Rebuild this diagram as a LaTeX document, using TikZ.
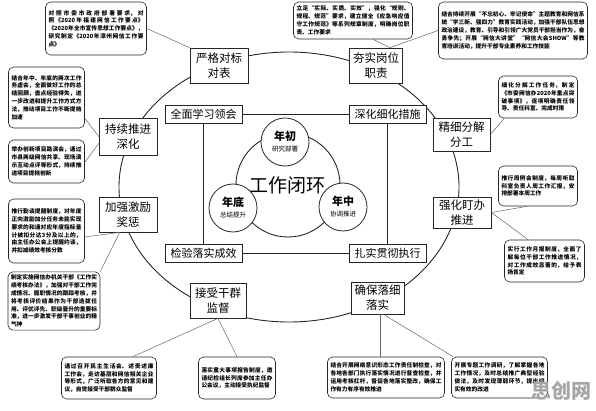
\documentclass[tikz,border=0pt]{standalone}
\usepackage{fontspec}
\setmainfont{Noto Sans CJK SC}
\XeTeXlinebreaklocale "zh"
\XeTeXlinebreakskip=0pt plus 1pt
\usetikzlibrary{calc}
\begin{document}
\begin{tikzpicture}[x=1pt,y=-1pt,
 box/.style={draw=black!85, line width=0.7pt, fill=white, align=center, font=\fontsize{11.5}{15}\selectfont, inner sep=1pt},
 ibox/.style={draw=black!85, line width=0.7pt, fill=white, font=\fontsize{11}{12}\selectfont, minimum width=77pt, minimum height=18pt, inner sep=1pt},
 note/.style={draw=black!85, line width=0.6pt, fill=white, rounded corners=5pt, font=\fontsize{5.7}{7.8}\selectfont\bfseries, align=justify, inner sep=3pt},
 link/.style={draw=black!60, line width=0.5pt},
 ring/.style={draw=black!85, line width=0.9pt},
 yc/.style={circle, draw=black!85, line width=0.8pt, fill=white, minimum size=48pt, inner sep=0pt, align=center}
]
\useasboundingbox (0,0) rectangle (596,411);

% rings
\draw[ring] (289,187) ellipse [x radius=170pt, y radius=135pt];
\draw[ring] (288,185) circle [radius=52pt];

% ring boxes
\node[box, minimum width=58pt, minimum height=35pt] (yg) at (219,65.5) {严格对标\\对表};
\node[box, minimum width=53pt, minimum height=35pt] (hs) at (376,65.5) {夯实岗位\\职责};
\node[box, minimum width=58pt, minimum height=37pt] (cx) at (128,136.5) {持续推进\\深化};
\node[box, minimum width=58pt, minimum height=35pt] (jq) at (128,214.5) {加强激励\\奖惩};
\node[box, minimum width=57pt, minimum height=33pt] (jx) at (461.5,134.5) {精细分解\\分工};
\node[box, minimum width=58pt, minimum height=31pt] (qh) at (462,212.5) {强化盯办\\推进};
\node[box, minimum width=56pt, minimum height=35pt] (js) at (218,300.5) {接受干群\\监督};
\node[box, minimum width=53pt, minimum height=32pt] (qb) at (377.5,298) {确保落细\\落实};

% inner rectangle
\node[ibox] (qm) at (203.5,114) {全面学习领会};
\node[ibox] (sh) at (387.5,114) {深化细化措施};
\node[ibox] (jy) at (203.5,253) {检验落实成效};
\node[ibox] (zs) at (387.5,253) {扎实贯彻执行};
\draw[ring] (qm) -- (sh);
\draw[ring] (sh) -- (zs);
\draw[ring] (zs) -- (jy);
\draw[ring] (jy) -- (qm);

% centre
\node[font=\fontsize{19}{20}\selectfont] (title) at (287,185) {工作闭环};
\node[yc] (nc) at (285,142) {{\fontsize{11}{12}\selectfont\bfseries 年初}\\[-1pt]{\fontsize{6.5}{8}\selectfont 研究部署}};
\node[yc] (nz) at (343,207) {{\fontsize{11}{12}\selectfont\bfseries 年中}\\[-1pt]{\fontsize{6.5}{8}\selectfont 协调推进}};
\node[yc] (nd) at (233,208) {{\fontsize{11}{12}\selectfont\bfseries 年底}\\[-1pt]{\fontsize{6.5}{8}\selectfont 总结提升}};

% notes
\node[note, text width=95pt, minimum height=53pt] (n1) at (96,28.5) {对照市委市政府部署要求，对照《2020年福建网信工作要点》《2020年全市宣传思想工作要点》，研究制定《2020年漳州网信工作要点》};
\node[note, text width=113pt, minimum height=37pt] (n2) at (353,20.5) {立足“实际、实质、实效”，强化“规则、规程、规范”要求，建立健全《应急响应值守工作规范》等系列规章制度，明确岗位职责、工作要求};
\node[note, text width=143pt, minimum height=57pt] (n3) at (513,30.5) {结合持续开展“不忘初心、牢记使命”主题教育和网信系统“学三新、强四力”教育实践活动，加强干部队伍思想政治建设，教育、引导和引领广大党员干部担当作为，奋勇争先；开展“网信大讲堂”“网信大会SHOW”等教育培训活动，提升干部专业素养和工作技能};
\node[note, text width=73pt, minimum height=42pt] (n4) at (538,97) {细化分解工作任务，制定《市委网信办2020年重点突破事项》，逐项明确责任领导、责任科室、完成时限};
\node[note, text width=73pt, minimum height=40pt] (n5) at (538,186) {推行周例会制度，每周听取科室负责人周工作汇报，安排部署本周工作};
\node[note, text width=74pt, minimum height=42pt] (n6) at (544.5,261) {实行工作月报制度，全面了解每位干部工作推进情况，对工作成效显著的，给予表扬肯定};
\node[note, text width=111pt, minimum height=41pt] (n7) at (386,377.5) {结合开展网络意识形态工作责任制检查，对各地各部门执行落实情况进行督查检查，并运用考核杠杆，督促各地落实整改，确保工作有力有序有效推进};
\node[note, text width=90pt, minimum height=41pt] (n8) at (499.5,377.5) {开展专题工作调研，了解掌握各地工作情况，及时总结推广典型经验做法，及时发现薄弱环节，提出切实有效的改进};
\node[note, text width=89pt, minimum height=42pt] (n9) at (109,378) {通过召开民主生活会、述责述廉工作会，走访基层和网信相关企业等形式，广泛听取各方的意见和建议，自觉接受干部群众监督};
\node[note, text width=71pt, minimum height=42pt] (n10) at (237,378) {落实重大事项报告制度，邀请纪检组长列席参加主任办公会议，主动接受执纪监督};
\node[note, text width=70pt, minimum height=61pt] (l1) at (46.5,97.5) {结合年中、年底的两次工作务虚会，全面做好工作的总结回顾，盘点经验得失，进一步改进和提升工作方式方法，推动项目工作不断提档加速};
\node[note, text width=70pt, minimum height=43pt] (l2) at (46.5,161.5) {举办创新项目路演会，通过市县两级网信共享、现场演示互动点评等形式，持续推进项目提档创新};
\node[note, text width=70pt, minimum height=64pt] (l3) at (46.5,231) {推行勤谈提醒制度，对年度正向激励加分任务未能实现要求的和通对应年度指标量计被扣分达3分及以上的，由主任办公会上提醒约谈，并扣减绩效考核分数};
\node[note, text width=86pt, minimum height=58pt] (l4) at (54,301) {制定实施网信办机关干部《工作实绩考核办法》，加强对干部工作完成情况、履职情况的跟踪考核，并将考核评价结果作为干部选拔任用、评优评先、职级晋升的重要标准，进一步激发干部干事创业的精气神};

% connectors
\draw[link] (n1.east) -- (yg.north west);
\draw[link] ($(n2.south)+(20,0)$) -- ($(hs.north)+(14,0)$);
\draw[link] (n3.west) -- ($(hs.north)+(14,0)$);
\draw[link] ($(n4.south west)+(6,0)$) -- (jx.east);
\draw[link] ($(n5.south west)+(29,0)$) -- (qh.east);
\draw[link] ($(n6.north west)+(24,0)$) -- (qh.east);
\draw[link] ($(qb.south)+(2.5,0)$) -- ($(n7.north)+(-6,0)$);
\draw[link] ($(qb.south)+(6,0)$) -- ($(n8.north west)+(2,0)$);
\draw[link] (js.south) -- ($(n9.north east)+(-24,0)$);
\draw[link] (js.south) -- (n10.north);
\draw[link] ($(l1.south east)+(0,-10)$) -- (cx.west);
\draw[link] ($(l2.east)+(0,1)$) -- ($(cx.south west)+(0,-12)$);
\draw[link] ($(l3.east)+(0,6)$) -- ($(jq.south west)+(21,0)$);
\draw[link] ($(jq.south west)+(21,0)$) -- (l4.north east);

% watermark
\node[font=\fontsize{20}{20}\selectfont\bfseries, text=black!35] (wm) at (561,391) {思创网};
\end{tikzpicture}
\end{document}
